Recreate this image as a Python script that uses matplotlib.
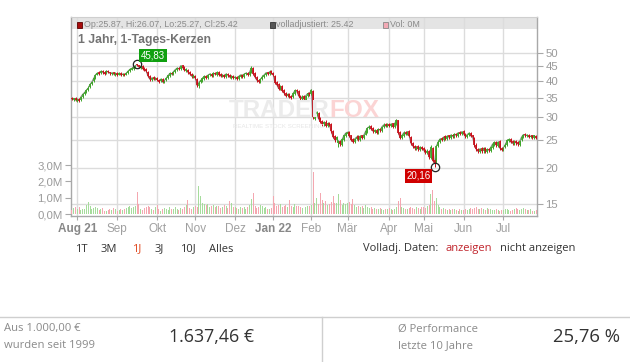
import numpy as np
import pandas as pd
import matplotlib
matplotlib.use("Agg")
import matplotlib.pyplot as plt
from matplotlib.patches import Rectangle
from matplotlib.lines import Line2D
from matplotlib.ticker import NullLocator

plt.rcParams['font.family'] = ['Liberation Sans', 'DejaVu Sans']

# ---------------- data ----------------
start_date = "2021-07-28"
end_date = "2022-07-27"
holidays = ["2021-12-24", "2021-12-31", "2022-04-15", "2022-04-18"]

month_labels = ["Aug 21", "Sep", "Okt", "Nov", "Dez", "Jan 22", "Feb", "Mär",
                "Apr", "Mai", "Jun", "Jul"]
bold_labels = ["Aug 21", "Jan 22"]

close = [
    34.6, 34.8, 34.3,
    34.5, 34.2, 35.3, 36.0, 36.5, 37.2, 37.8, 38.9, 39.7, 40.8, 42.0, 42.6, 42.3, 43.2, 42.8, 42.4, 43.3, 42.9, 42.5, 42.7, 42.2, 42.4,
    42.0, 42.5, 41.9, 42.3, 42.0, 42.6, 43.3, 43.9, 44.2, 44.8, 45.2, 45.6, 44.6, 45.0, 44.1, 43.8, 43.2, 41.5, 40.5, 41.0, 40.6, 40.9,
    40.4, 39.8, 40.6, 39.6, 40.1, 40.9, 41.8, 42.5, 42.2, 43.1, 43.8, 44.3, 44.0, 45.2, 44.5, 43.6, 43.9, 42.8, 42.3, 41.5, 41.8,
    40.9, 38.6, 39.5, 40.2, 40.8, 41.5, 41.0, 41.9, 42.3, 41.7, 42.6, 42.2, 42.8, 42.1, 41.6, 42.0, 41.4, 42.3, 41.8, 41.2, 41.6, 41.0,
    41.3, 40.7, 41.5, 42.0, 41.4, 42.3, 42.6, 42.1, 43.0, 44.5, 42.4, 41.2, 40.2, 39.8, 40.5, 41.4, 42.0, 42.7, 42.3, 43.1, 42.6,
    42.0, 39.5, 38.8, 37.6, 38.2, 37.0, 36.3, 35.5, 36.0, 35.2, 35.0, 36.2, 37.1, 36.8, 35.5, 34.8, 35.3, 34.6, 35.6, 36.2, 36.0,
    37.3, 30.0, 30.8, 31.2, 29.6, 28.9, 28.4, 28.8, 28.0, 28.5, 28.2, 26.8, 25.6, 25.0, 25.5, 24.6, 24.2, 25.1, 25.9, 26.4,
    26.6, 25.8, 25.0, 24.6, 25.2, 25.6, 25.1, 25.8, 25.4, 26.0, 26.8, 27.5, 27.8, 27.3, 26.8, 27.0, 26.5, 27.2, 27.0, 27.8, 28.2, 27.9, 28.3,
    28.0, 28.4, 27.8, 28.5, 29.3, 26.5, 25.4, 25.9, 26.5, 26.2, 26.7, 25.8, 24.3, 23.8, 23.4, 23.7, 23.2, 23.6, 23.3,
    23.0, 22.7, 22.9, 21.8, 23.6, 21.2, 20.8, 23.8, 24.6, 25.2, 25.0, 25.6, 25.3, 25.8, 25.5, 26.0, 25.7, 26.2, 25.9, 26.5, 26.3, 26.7,
    26.2, 25.7, 26.1, 26.4, 25.8, 25.5, 24.0, 23.2, 22.8, 23.3, 22.9, 23.4, 22.8, 23.2, 23.0, 23.6, 24.2, 24.5, 24.0, 24.6, 23.4, 23.1,
    23.5, 24.1, 24.9, 25.1, 24.6, 24.3, 24.7, 24.4, 24.2, 24.8, 25.6, 26.1, 25.9, 26.0, 25.6, 25.8, 25.5, 25.9, 25.42,
]

open_ = [
    34.9, 34.4, 34.9,
    34.2, 34.6, 34.4, 35.2, 36.1, 36.6, 37.1, 38.0, 39.0, 39.9, 41.0, 42.1, 42.8, 42.5, 43.4, 42.9, 42.6, 43.4, 42.8, 42.4, 42.8, 42.0,
    42.5, 42.1, 42.6, 41.8, 42.4, 42.1, 42.7, 43.2, 43.8, 44.1, 44.6, 45.8, 45.4, 44.5, 45.1, 44.3, 43.9, 43.0, 41.7, 40.4, 41.2, 40.5,
    41.0, 40.3, 39.9, 40.5, 39.5, 40.2, 41.0, 41.7, 42.6, 42.1, 43.0, 43.6, 44.5, 44.1, 45.3, 44.6, 43.4, 43.8, 42.9, 42.4, 41.3,
    41.7, 40.6, 38.3, 39.6, 40.1, 40.7, 41.6, 40.9, 41.8, 42.4, 41.6, 42.7, 42.0, 42.9, 42.2, 41.5, 42.1, 41.3, 42.4, 41.9, 41.0, 41.7,
    40.8, 41.4, 40.6, 41.4, 42.1, 41.3, 42.2, 42.7, 42.0, 42.9, 44.3, 42.5, 41.3, 40.4, 39.7, 40.6, 41.3, 41.9, 42.8, 42.2, 43.2,
    42.7, 41.6, 39.7, 38.9, 37.5, 38.3, 37.2, 36.4, 35.4, 36.1, 35.4, 35.1, 36.0, 37.2, 36.9, 35.6, 34.7, 35.4, 34.5, 35.5, 36.3,
    36.1, 37.0, 29.6, 30.7, 31.0, 29.7, 29.0, 28.3, 28.9, 27.9, 28.6, 28.3, 26.9, 25.8, 24.9, 24.3, 24.8, 24.1, 25.0, 25.8,
    26.2, 26.7, 25.9, 25.1, 24.5, 25.1, 25.7, 25.0, 25.9, 25.3, 26.1, 26.7, 27.4, 27.9, 27.4, 26.7, 27.1, 26.4, 27.3, 26.9, 27.7, 28.3, 27.8,
    28.4, 27.9, 28.5, 27.7, 28.4, 29.2, 26.6, 25.3, 25.8, 26.6, 26.1, 26.8, 25.6, 24.4, 23.9, 23.3, 23.8, 23.1, 23.7,
    23.4, 23.1, 22.6, 22.8, 21.7, 23.4, 21.3, 21.0, 23.9, 24.5, 25.3, 24.9, 25.7, 25.2, 25.9, 25.4, 26.1, 25.6, 26.3, 25.8, 26.6, 26.2,
    26.8, 26.3, 25.6, 26.0, 26.5, 25.9, 25.4, 24.1, 23.3, 22.7, 23.4, 22.8, 23.5, 22.7, 23.3, 22.9, 23.5, 24.1, 24.6, 23.9, 24.7, 23.5,
    23.0, 23.6, 24.0, 24.8, 25.2, 24.7, 24.2, 24.8, 24.5, 24.1, 24.9, 25.5, 26.2, 25.8, 26.1, 25.5, 25.9, 25.4, 25.87,
]

high = [
    35.2, 35.0, 35.1,
    34.8, 34.9, 35.5, 36.3, 36.9, 37.6, 38.3, 39.2, 40.1, 41.2, 42.4, 43.1, 43.2, 43.7, 43.8, 43.2, 43.7, 43.8, 43.1, 43.0, 43.1, 42.8,
    42.8, 42.9, 42.9, 42.6, 42.7, 42.9, 43.6, 44.2, 44.6, 45.1, 45.5, 45.83, 45.6, 45.4, 45.3, 44.6, 44.2, 43.3, 42.0, 41.4, 41.5, 41.3,
    41.3, 40.6, 40.9, 40.8, 40.4, 41.2, 42.1, 42.8, 42.9, 43.4, 44.1, 44.6, 44.8, 45.5, 45.6, 44.9, 44.3, 44.1, 43.2, 42.7, 42.2,
    42.0, 40.9, 39.9, 40.6, 41.2, 41.9, 41.9, 42.2, 42.7, 42.7, 42.9, 43.0, 43.2, 43.2, 42.5, 42.4, 42.4, 42.6, 42.7, 42.2, 42.0, 42.0,
    41.7, 41.7, 41.8, 42.4, 42.4, 42.6, 43.0, 43.0, 43.3, 44.9, 44.6, 42.8, 41.6, 40.7, 40.9, 41.8, 42.4, 43.1, 43.1, 43.5, 43.5,
    43.0, 41.9, 40.0, 39.2, 38.6, 38.6, 37.5, 36.7, 36.4, 36.4, 35.7, 36.5, 37.4, 37.5, 37.2, 35.9, 35.7, 35.7, 35.9, 36.6, 36.7,
    37.6, 37.2, 31.1, 31.6, 31.3, 30.0, 29.3, 29.1, 29.2, 28.8, 28.9, 28.5, 27.1, 26.0, 25.8, 24.9, 25.0, 25.3, 26.1, 26.7,
    26.9, 26.9, 26.1, 25.3, 25.4, 25.9, 25.9, 26.0, 26.1, 26.2, 27.0, 27.7, 28.1, 28.1, 27.6, 27.3, 27.3, 27.4, 27.5, 28.0, 28.5, 28.5, 28.6,
    28.6, 28.7, 28.7, 28.8, 29.5, 29.4, 26.8, 26.2, 26.8, 26.8, 26.9, 27.0, 25.8, 24.6, 24.1, 23.9, 24.0, 23.8, 23.9,
    23.6, 23.3, 23.2, 23.0, 24.0, 23.6, 21.6, 24.1, 24.9, 25.4, 25.5, 25.8, 25.9, 26.0, 26.1, 26.2, 26.3, 26.4, 26.5, 26.7, 26.8, 26.9,
    27.0, 26.5, 26.3, 26.6, 26.7, 26.1, 25.6, 24.3, 23.5, 23.5, 23.6, 23.6, 23.7, 23.4, 23.5, 23.8, 24.4, 24.7, 24.8, 24.8, 24.9, 23.7,
    23.7, 24.3, 25.1, 25.3, 25.4, 24.9, 24.9, 25.0, 24.7, 25.0, 25.8, 26.3, 26.4, 26.2, 26.3, 26.0, 26.1, 26.1, 26.07,
]

low = [
    34.3, 34.2, 34.0,
    33.9, 33.9, 34.2, 35.0, 35.8, 36.3, 36.9, 37.7, 38.7, 39.6, 40.7, 41.8, 41.9, 42.2, 42.4, 42.0, 42.3, 42.6, 42.1, 42.0, 41.9, 41.7,
    41.6, 41.8, 41.5, 41.5, 41.7, 41.9, 42.4, 42.9, 43.5, 43.8, 44.3, 44.9, 44.2, 44.1, 43.8, 43.4, 42.8, 41.2, 40.1, 40.1, 40.2, 40.2,
    40.0, 39.4, 39.6, 39.3, 39.2, 39.9, 40.7, 41.4, 41.8, 41.8, 42.7, 43.3, 43.6, 43.8, 44.1, 43.2, 43.1, 42.4, 41.9, 41.1, 41.0,
    40.5, 38.2, 37.9, 39.2, 39.8, 40.4, 40.6, 40.6, 41.5, 41.3, 41.3, 41.8, 41.7, 41.7, 41.2, 41.2, 41.0, 41.0, 41.4, 40.8, 40.7, 40.6,
    40.5, 40.3, 40.3, 41.1, 41.0, 41.0, 41.9, 41.7, 41.7, 42.6, 42.0, 40.8, 39.8, 39.4, 39.4, 40.3, 41.0, 41.6, 41.9, 41.9, 42.2,
    41.6, 39.1, 38.4, 37.2, 37.2, 36.6, 35.9, 35.1, 35.1, 34.8, 34.6, 34.8, 35.7, 36.4, 35.1, 34.4, 34.4, 34.2, 34.2, 35.2, 35.6,
    35.8, 29.5, 29.3, 30.3, 29.3, 28.5, 28.0, 28.0, 27.7, 27.6, 27.9, 26.5, 25.3, 24.6, 24.6, 23.6, 23.9, 23.9, 24.8, 25.6,
    25.9, 25.5, 24.7, 24.3, 24.3, 24.9, 24.8, 24.8, 25.1, 25.1, 25.9, 26.5, 27.2, 27.0, 26.5, 26.5, 26.2, 26.2, 26.7, 26.7, 27.5, 27.6, 27.6,
    27.7, 27.7, 27.5, 27.5, 28.2, 26.2, 25.1, 25.1, 25.6, 25.9, 25.9, 25.5, 24.0, 23.5, 23.1, 23.1, 22.9, 22.9, 23.0,
    22.7, 22.4, 22.4, 21.5, 21.5, 20.9, 20.16, 20.8, 23.6, 24.3, 24.7, 24.7, 25.0, 25.0, 25.2, 25.2, 25.4, 25.4, 25.6, 25.6, 26.0, 26.0,
    25.9, 25.4, 25.4, 25.8, 25.5, 25.2, 23.7, 22.9, 22.5, 22.5, 22.6, 22.6, 22.5, 22.5, 22.7, 22.7, 23.3, 23.9, 23.7, 23.7, 23.1, 22.8,
    22.8, 23.4, 23.8, 24.6, 24.3, 24.0, 24.0, 24.1, 23.9, 23.9, 24.7, 25.3, 25.6, 25.6, 25.4, 25.3, 25.2, 25.2, 25.27,
]

volume_m = [
    0.22, 0.35, 0.45,
    0.28, 0.40, 0.25, 0.30, 0.32, 0.55, 0.75, 0.48, 0.30, 0.35, 0.42, 0.38, 0.22, 0.28, 0.35, 0.20, 0.18, 0.24, 0.30, 0.22, 0.34, 0.28,
    0.20, 0.26, 0.32, 0.24, 0.30, 0.38, 0.45, 0.50, 0.38, 0.46, 0.52, 1.37, 0.60, 0.30, 0.22, 0.35, 0.42, 0.48, 0.45, 0.30, 0.25, 0.40,
    0.55, 0.32, 0.20, 0.28, 0.35, 0.30, 0.22, 0.40, 0.32, 0.28, 0.45, 0.30, 0.25, 0.38, 0.30, 0.42, 0.55, 0.85, 0.35, 0.28, 0.40,
    0.52, 0.45, 1.73, 1.10, 0.65, 0.60, 0.55, 0.62, 0.45, 0.50, 0.58, 0.42, 0.48, 0.50, 0.38, 0.45, 0.55, 0.48, 0.35, 0.80, 0.70, 0.40,
    0.45, 0.35, 0.30, 0.42, 0.38, 0.45, 0.32, 0.40, 0.55, 0.90, 1.30, 0.50, 0.38, 0.45, 0.55, 0.48, 0.35, 0.40, 0.30, 0.28, 0.35,
    1.10, 0.65, 0.48, 0.55, 0.62, 0.45, 0.50, 0.58, 0.40, 0.85, 0.50, 0.45, 0.60, 0.52, 0.48, 0.42, 0.38, 0.35, 0.45, 0.50, 0.52,
    0.55, 2.60, 0.70, 1.00, 0.60, 1.30, 0.85, 0.65, 0.80, 0.55, 0.60, 0.75, 1.10, 0.70, 0.65, 1.20, 0.85, 0.55, 0.70, 0.60,
    0.65, 0.75, 0.60, 0.90, 0.55, 0.45, 0.50, 0.40, 0.48, 0.35, 0.55, 0.45, 0.38, 0.42, 0.30, 0.35, 0.28, 0.32, 0.38, 0.30, 0.26, 0.33, 0.28,
    0.35, 0.30, 0.25, 0.32, 0.45, 0.80, 1.00, 0.45, 0.38, 0.30, 0.28, 0.35, 0.42, 0.38, 0.32, 0.40, 0.35, 0.30, 0.45,
    0.40, 0.35, 0.50, 0.55, 1.20, 1.50, 0.80, 1.00, 0.55, 0.40, 0.30, 0.35, 0.28, 0.25, 0.30, 0.22, 0.28, 0.32, 0.25, 0.20, 0.30, 0.26,
    0.24, 0.30, 0.22, 0.28, 0.35, 0.30, 0.38, 0.45, 0.32, 0.28, 0.35, 0.30, 0.25, 0.38, 0.32, 0.28, 0.25, 0.22, 0.30, 0.26, 0.20, 0.24,
    0.22, 0.28, 0.32, 0.25, 0.20, 0.26, 0.30, 0.35, 0.28, 0.24, 0.32, 0.38, 0.30, 0.26, 0.22, 0.28, 0.20, 0.18, 0.24,
]

price_ticks = [15, 20, 25, 30, 35, 40, 45, 50]
volume_ticks = [0, 1, 2, 3]
volume_tick_labels = ["0,0M", "1,0M", "2,0M", "3,0M"]

peak_date, peak_value, peak_label = "2021-09-16", 45.83, "45,83"
trough_date, trough_value, trough_label = "2022-05-10", 20.16, "20,16"

legend_items = ["Op:25.87, Hi:26.07, Lo:25.27, Cl:25.42", "volladjustiert: 25.42", "Vol: 0M"]
chart_title = "1 Jahr, 1-Tages-Kerzen"
range_buttons = ["1T", "3M", "1J", "3J", "10J", "Alles"]

# ---------------- build ----------------
dates = pd.bdate_range(start_date, end_date)
dates = dates[~dates.isin(pd.to_datetime(holidays))]
n = len(dates)
assert n == len(close) == len(open_) == len(high) == len(low) == len(volume_m), \
    (n, len(close), len(open_), len(high), len(low), len(volume_m))
idx = np.arange(n)
close_a = np.array(close)
open_a = np.array(open_)
high_a = np.array(high)
low_a = np.array(low)
vol_a = np.array(volume_m)
up = close_a >= open_a

month_pos = [i for i in range(1, n) if dates[i].month != dates[i - 1].month]

W, H = 630, 362
fig = plt.figure(figsize=(W / 100, H / 100), dpi=100)
fig.patch.set_facecolor("white")

def fx(x):
    return x / W

def fy(y):
    return 1 - y / H

L, R, T, B = 71, 537, 17, 216
rect = [fx(L), fy(B), fx(R) - fx(L), fy(T) - fy(B)]
ax = fig.add_axes(rect)
ax.set_facecolor("white")
ax.set_axisbelow(True)

GRID = "#dcdcdc"
AXC = "#a8a8a8"
LBL = "#9a9a9a"
YLIM = (13.63, 66.6)

ax.set_yscale("log")
ax.set_ylim(*YLIM)
ax.set_xlim(-0.5, n - 0.5)

# header band
ax.add_patch(Rectangle((0, 1 - 12 / 199), 1, 12 / 199, transform=ax.transAxes,
                       facecolor="#e4e4e4", edgecolor="none", zorder=0.1))

# volume axis
axv = ax.twinx()
axv.set_ylim(-0.1227, 12.09)
axv.yaxis.tick_left()
axv.yaxis.set_label_position("left")
axv.set_yticks(volume_ticks)
axv.set_yticklabels(volume_tick_labels)
axv.tick_params(axis="y", which="both", length=4, color=AXC, labelsize=8.2, labelcolor=LBL,
                pad=2, left=True, right=False, labelleft=True, labelright=False)
for s in axv.spines.values():
    s.set_visible(False)
axv.bar(idx[up], vol_a[up], width=0.55, color="#a6dc9c", linewidth=0, zorder=1)
axv.bar(idx[~up], vol_a[~up], width=0.55, color="#f4a7b0", linewidth=0, zorder=1)
axv.set_xlim(-0.5, n - 0.5)

# price axis ticks / grid
ax.set_yticks(price_ticks)
ax.set_yticklabels([str(t) for t in price_ticks])
ax.yaxis.set_minor_locator(NullLocator())
ax.yaxis.tick_right()
ax.yaxis.set_label_position("right")
ax.set_xticks(month_pos)
ax.set_xticklabels(month_labels)
ax.grid(True, which="major", color=GRID, linewidth=1.0)
ax.tick_params(axis="y", which="both", right=True, left=False, labelright=True, labelleft=False,
               length=4, color=AXC, labelsize=8.2, labelcolor=LBL, pad=2)
ax.tick_params(axis="x", length=3, color=AXC, labelsize=8.5, labelcolor="#a0a0a0", pad=2)
for lab in ax.get_xticklabels():
    if lab.get_text() in bold_labels:
        lab.set_fontweight("bold")
        lab.set_color("#888888")
for s in ["left", "right", "bottom"]:
    ax.spines[s].set_color(AXC)
    ax.spines[s].set_linewidth(1.0)
ax.spines["top"].set_color("#cfcfcf")

# watermark
t1 = fig.text(fx(229), fy(111), "TRADER", fontsize=17.5, fontweight="bold", color="#ebebeb",
              va="center", ha="left", zorder=0.2)
fig.canvas.draw()
bb = t1.get_window_extent()
fig.text(bb.x1 / W, fy(111), "FOX", fontsize=17.5, fontweight="bold", color="#fbd4d4",
         va="center", ha="left", zorder=0.2)
fig.text(fx(233), fy(126), "REALTIME STOCK SCREENING", fontsize=4.4, color="#e6e6e6",
         va="center", ha="left", zorder=0.2)

# close line + candles on a transparent overlay axes (above the volume bars)
GREEN = "#3fa52a"
RED = "#c8101a"
lo = np.minimum(open_a, close_a)
hi = np.maximum(open_a, close_a)
axp = fig.add_axes(rect, sharex=ax)
axp.set_yscale("log")
axp.set_ylim(*YLIM)
axp.patch.set_visible(False)
axp.axis("off")
axp.plot(idx, close_a, color="#8c8c8c", linewidth=0.8, zorder=2)
axp.vlines(idx[up], low_a[up], high_a[up], color=GREEN, linewidth=0.7, zorder=3)
axp.vlines(idx[~up], low_a[~up], high_a[~up], color=RED, linewidth=0.7, zorder=3)
axp.vlines(idx[up], lo[up], hi[up], color=GREEN, linewidth=1.2, zorder=3)
axp.vlines(idx[~up], lo[~up], hi[~up], color=RED, linewidth=1.2, zorder=3)

# extremes
p_i = int(np.where(dates == pd.Timestamp(peak_date))[0][0])
t_i = int(np.where(dates == pd.Timestamp(trough_date))[0][0])
axp.plot([p_i], [peak_value], marker="o", markersize=6, markerfacecolor="none",
         markeredgecolor="#222222", markeredgewidth=0.9, zorder=5)
axp.plot([t_i], [trough_value], marker="o", markersize=6, markerfacecolor="none",
         markeredgecolor="#222222", markeredgewidth=0.9, zorder=5)
axp.annotate(peak_label, (p_i, peak_value), xytext=(11.5, 6), textcoords="offset points",
             ha="center", va="center", fontsize=7, color="white", zorder=6,
             bbox=dict(boxstyle="square,pad=0.18", facecolor="#10a010", edgecolor="none"))
axp.annotate(trough_label, (t_i, trough_value), xytext=(-11.5, -6.5), textcoords="offset points",
             ha="center", va="center", fontsize=7, color="white", zorder=6,
             bbox=dict(boxstyle="square,pad=0.18", facecolor="#d00000", edgecolor="none"))
axp.set_xlim(-0.5, n - 0.5)

# header legend
sq_colors = [("#a80c0c", "#5a0000"), ("#555555", "#333333"), ("#f2a9b4", "#888888")]
sq_x = [77, 270, 383]
for (fc, ec), x0, txt in zip(sq_colors, sq_x, legend_items):
    fig.patches.append(Rectangle((fx(x0), fy(27.5)), 5 / W, 5 / H, transform=fig.transFigure,
                                 facecolor=fc, edgecolor=ec, linewidth=0.6, zorder=7))
    fig.text(fx(x0 + 6.5), fy(24.8), txt, fontsize=6.4, color="#8a8a8a", va="center",
             ha="left", zorder=7)
fig.text(fx(78), fy(40), chart_title, fontsize=8.8, fontweight="bold", color="#737373",
         va="center", ha="left", zorder=7)

# range buttons row
btn_x = [75, 101, 132, 155, 180, 209]
for x0, t in zip(btn_x, range_buttons):
    fig.text(fx(x0), fy(249), t, fontsize=8, family="Open Sans",
             color="#e0451b" if t == "1J" else "#333333", va="center", ha="left")
fig.text(fx(363), fy(249), "Volladj. Daten:", fontsize=8, family="Open Sans", color="#333333",
         va="center", ha="left")
fig.text(fx(446), fy(249), "anzeigen", fontsize=8, family="Open Sans", color="#c0242c",
         va="center", ha="left")
fig.text(fx(500), fy(249), "nicht anzeigen", fontsize=8, family="Open Sans", color="#333333",
         va="center", ha="left")

# bottom panel
fig.add_artist(Line2D([0, 1], [fy(317), fy(317)], transform=fig.transFigure,
                      color="#cfcfcf", linewidth=1.0))
fig.add_artist(Line2D([fx(322), fx(322)], [fy(317), 0], transform=fig.transFigure,
                      color="#cfcfcf", linewidth=1.0))
fig.text(fx(4), fy(329), "Aus 1.000,00 €", fontsize=8.1, family="Open Sans", color="#8a8a8a",
         va="center", ha="left")
fig.text(fx(4), fy(346), "wurden seit 1999", fontsize=8.1, family="Open Sans", color="#8a8a8a",
         va="center", ha="left")
fig.text(fx(169), fy(337), "1.637,46 €", fontsize=12.8, family="Open Sans", color="#333333",
         va="center", ha="left")
fig.text(fx(398), fy(329), "Ø Performance", fontsize=8.1, family="Open Sans", color="#8a8a8a",
         va="center", ha="left")
fig.text(fx(398), fy(346), "letzte 10 Jahre", fontsize=8.1, family="Open Sans", color="#8a8a8a",
         va="center", ha="left")
fig.text(fx(620), fy(337), "25,76 %", fontsize=13.3, family="Open Sans", color="#333333",
         va="center", ha="right")

fig.savefig("out.png", dpi=100, facecolor="white")
